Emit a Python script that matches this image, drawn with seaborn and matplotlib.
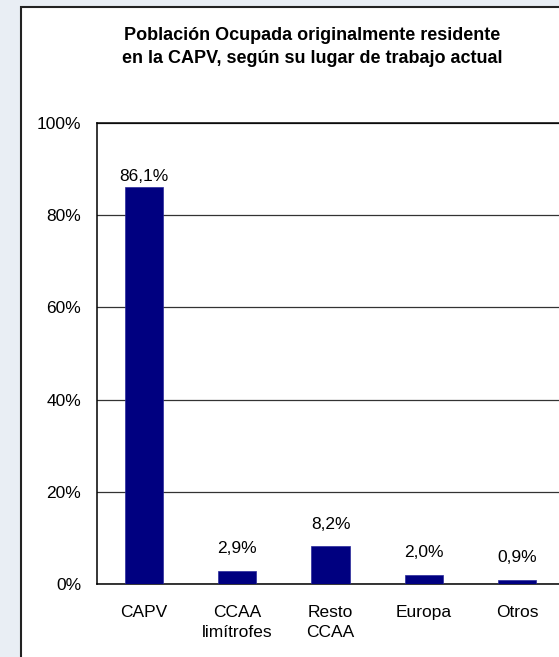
import matplotlib.pyplot as plt
import matplotlib.patches as patches
import pandas as pd
import seaborn as sns

# data
categories = ["CAPV", "CCAA\nlimítrofes", "Resto\nCCAA", "Europa", "Otros"]
values = [86.1, 2.9, 8.2, 2.0, 0.9]
labels = ["86,1%", "2,9%", "8,2%", "2,0%", "0,9%"]
yticks = [0, 20, 40, 60, 80, 100]

df = pd.DataFrame({"lugar": categories, "pct": values})

sns.set_style("white")
plt.rcParams["font.family"] = ["Liberation Sans", "DejaVu Sans"]
plt.rcParams["text.color"] = "black"
plt.rcParams["xtick.color"] = "black"
plt.rcParams["ytick.color"] = "black"

W, H = 559, 657
fig = plt.figure(figsize=(W / 100, H / 100), dpi=100)
fig.patch.set_facecolor("#e9eef4")

# white chart area with dark border on the left and top
box = patches.Rectangle((21 / W, -0.01), 1.0, (H - 7) / H + 0.01, transform=fig.transFigure,
                        facecolor="white", edgecolor="#222222", linewidth=1.5, zorder=-5)
fig.patches.append(box)

ax = fig.add_axes([97 / W, (H - 584) / H, (564 - 97) / W, (584 - 123) / H])
sns.barplot(data=df, x="lugar", y="pct", color="#000080", width=0.41,
            edgecolor="#2a2a9a", linewidth=0.5, saturation=1, ax=ax, zorder=3)

ax.set_ylim(0, 100)
ax.set_xlim(-0.5, 4.5)
ax.set_yticks(yticks)
ax.set_yticklabels([f"{t}%" for t in yticks])
ax.yaxis.grid(True, color="#333333", linewidth=0.9)
ax.set_axisbelow(True)
ax.set_xlabel("")
ax.set_ylabel("")
ax.tick_params(axis="y", length=0, pad=11.5, labelsize=12.5, labelcolor="black")
ax.tick_params(axis="x", length=0, pad=15, labelsize=12.5, labelcolor="black")
for lab in ax.get_xticklabels():
    lab.set_linespacing(1.4)
for s in ["left", "top", "bottom"]:
    ax.spines[s].set_visible(True)
    ax.spines[s].set_color("black")
    ax.spines[s].set_linewidth(1.1)
ax.spines["right"].set_visible(False)

# value labels above the bars (kept inside the top of the plot)
for i, (v, t) in enumerate(zip(values, labels)):
    ax.text(i, min(v + 4.8, 88.5), t, ha="center", va="center", fontsize=12.5, color="black")

fig.text(312 / W, (H - 47) / H, "Población Ocupada originalmente residente\nen la CAPV, según su lugar de trabajo actual",
         ha="center", va="center", fontsize=13, fontweight="bold", linespacing=1.4, color="black")

fig.savefig("out.png", dpi=100)
